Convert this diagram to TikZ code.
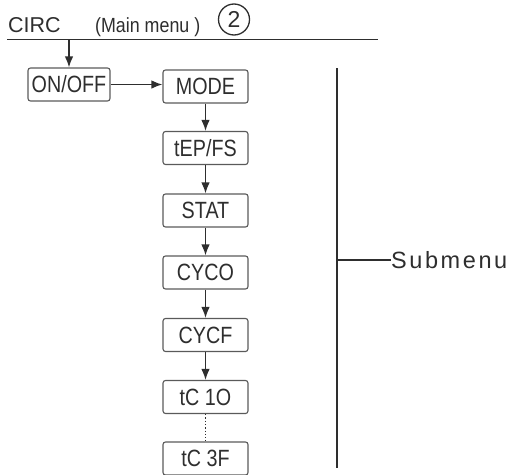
\documentclass[tikz,border=0pt]{standalone}
\usepackage{fontspec}
\setmainfont{Liberation Sans}
\newfontfamily\narrowfont[FakeStretch=0.84]{Liberation Sans}
\newfontfamily\menufont[FakeStretch=0.87]{Liberation Sans}
\newfontfamily\spacedfont[LetterSpace=11]{Liberation Sans}
\usetikzlibrary{arrows.meta}
\definecolor{ink}{HTML}{2E2E2E}
\definecolor{frame}{HTML}{5A5A5A}
\begin{document}
\begin{tikzpicture}[x=1pt,y=-1pt,
  menubox/.style={draw=frame,line width=1.1pt,rounded corners=2.5pt,minimum width=85pt,minimum height=33pt,inner sep=0pt,text=ink,font=\narrowfont\fontsize{23.5}{27}\selectfont},
  flow/.style={draw=ink,line width=1.5pt,-{Latex[length=11pt,width=8.5pt]}},
  plain/.style={draw=ink,line width=1.5pt}]
\useasboundingbox (0,0) rectangle (516,474);
\node[anchor=base west,text=ink,font=\fontsize{21.5}{25}\selectfont,inner sep=0pt] (circ) at (8,32) {CIRC};
\node[anchor=base west,text=ink,font=\menufont\fontsize{20.5}{24}\selectfont,inner sep=0pt] (mm) at (95,32) {(Main menu )};
\node[draw=ink,line width=1.3pt,circle,minimum size=31pt,inner sep=0pt,text=ink,font=\fontsize{23}{26}\selectfont] (two) at (234,19.5) {2};
\coordinate (l0) at (7,39.5);
\coordinate (l1) at (378,39.5);
\draw[plain] (l0) -- (l1);
\node[menubox,minimum width=82pt] (onoff) at (69,84.5) {ON/OFF};
\node[menubox] (mode) at (205.5,86.5) {MODE};
\node[menubox] (tep) at (205.5,148) {tEP/FS};
\node[menubox] (stat) at (205.5,210.5) {STAT};
\node[menubox] (cyco) at (205.5,272.5) {CYCO};
\node[menubox] (cycf) at (205.5,335) {CYCF};
\node[menubox] (tc1) at (205.5,397) {tC 1O};
\node[menubox] (tc3) at (205.5,458.5) {tC 3F};
\coordinate (tap) at (onoff.north |- l0);
\draw[flow] (tap) -- (onoff.north);
\draw[flow] (onoff.east) -- (mode.west |- onoff.east);
\draw[flow] (mode) -- (tep);
\draw[flow] (tep) -- (stat);
\draw[flow] (stat) -- (cyco);
\draw[flow] (cyco) -- (cycf);
\draw[flow] (cycf) -- (tc1);
\draw[draw=ink,line width=1.3pt,dotted] (tc1) -- (tc3);
\coordinate (s0) at (337,68);
\coordinate (s1) at (337,468);
\coordinate (s2) at (337,260);
\draw[plain] (s0) -- (s1);
\node[anchor=west,text=ink,font=\spacedfont\fontsize{23.5}{27}\selectfont,inner sep=0pt] (sub) at (391,260) {Submenu};
\draw[plain] (s2) -- (sub.west);
\end{tikzpicture}
\end{document}
